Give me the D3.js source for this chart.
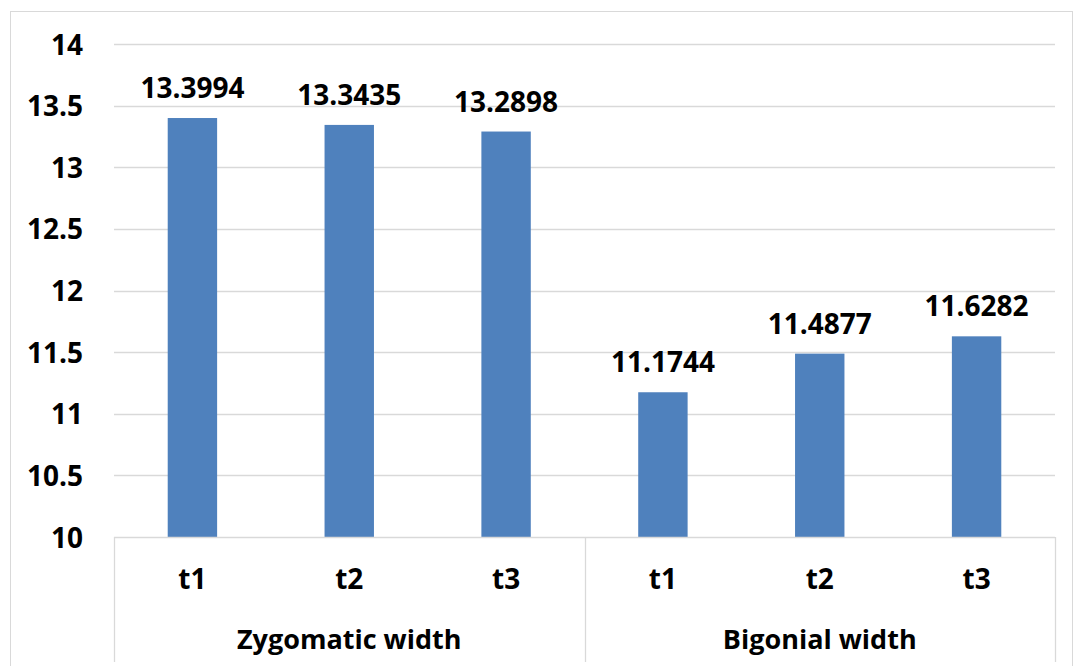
<!DOCTYPE html>
<html><head><meta charset="utf-8">
<script src="https://cdn.jsdelivr.net/npm/d3@7"></script>
<style>body{margin:0;background:#fff}svg{display:block}text{font-family:"Open Sans",Lato,sans-serif;font-weight:bold;fill:#000}</style>
</head><body>
<svg id="c" width="1075" height="666"></svg>
<script>
const groups = ["Zygomatic width", "Bigonial width"];
const times = ["t1", "t2", "t3"];
const zygomatic = [13.3994, 13.3435, 13.2898];
const bigonial = [11.1744, 11.4877, 11.6282];
const yTicks = [10, 10.5, 11, 11.5, 12, 12.5, 13, 13.5, 14];

const data = [];
groups.forEach((g, gi) => {
  const vals = gi === 0 ? zygomatic : bigonial;
  times.forEach((t, ti) => data.push({ key: g + "|" + t, group: g, time: t, value: vals[ti] }));
});

const FS = "28px";
const svg = d3.select("#c");
const L = 114, R = 1055, T = 44, B = 537;

svg.append("rect").attr("x", 10.5).attr("y", 11.5).attr("width", 1062).attr("height", 670)
  .attr("fill", "#fff").attr("stroke", "#d9d9d9").attr("stroke-width", 1);

const y = d3.scaleLinear().domain([10, 14]).range([B, T]);
const x = d3.scaleBand().domain(data.map(d => d.key)).range([L, R]).padding(0);
const xg = d3.scaleBand().domain(groups).range([L, R]).padding(0);
const bw = x.bandwidth() * 0.315;

// grid
svg.append("g").selectAll("line").data(yTicks.filter(v => v > 10)).join("line")
  .attr("x1", L).attr("x2", R).attr("y1", d => Math.round(y(d)) + 0.5).attr("y2", d => Math.round(y(d)) + 0.5)
  .attr("stroke", "#d9d9d9").attr("stroke-width", 1.3);

// y axis labels
const yAxis = d3.axisLeft(y).tickValues(yTicks).tickSize(0).tickPadding(0).tickFormat(d3.format("~g"));
const ya = svg.append("g").attr("transform", `translate(${83},0)`).call(yAxis);
ya.select(".domain").remove();
ya.selectAll("text").attr("dy", "0.36em").style("font-size", FS).style("font-family", "'Open Sans', Lato, sans-serif").style("font-weight", "bold").attr("fill", "#000");

// bars
svg.append("g").selectAll("rect").data(data).join("rect")
  .attr("x", d => x(d.key) + x.bandwidth() / 2 - bw / 2)
  .attr("width", bw)
  .attr("y", d => y(d.value))
  .attr("height", d => y(10) - y(d.value))
  .attr("fill", "#4f81bd");

// data labels
svg.append("g").selectAll("text").data(data).join("text")
  .attr("x", d => x(d.key) + x.bandwidth() / 2)
  .attr("y", d => y(d.value) - 20)
  .attr("text-anchor", "middle").style("font-size", FS)
  .text(d => d.value.toFixed(4));

// category axis box
svg.append("line").attr("x1", L).attr("x2", R).attr("y1", B + 0.5).attr("y2", B + 0.5).attr("stroke", "#d9d9d9").attr("stroke-width", 1.3);
const seps = [L, xg(groups[1]), R];
svg.append("g").selectAll("line").data(seps).join("line")
  .attr("x1", d => Math.round(d) + 0.5).attr("x2", d => Math.round(d) + 0.5)
  .attr("y1", B).attr("y2", 662).attr("stroke", "#d9d9d9").attr("stroke-width", 1.3);

svg.append("g").selectAll("text").data(data).join("text")
  .attr("x", d => x(d.key) + x.bandwidth() / 2).attr("y", 589)
  .attr("text-anchor", "middle").style("font-size", FS).text(d => d.time);

svg.append("g").selectAll("text").data(groups).join("text")
  .attr("x", d => xg(d) + xg.bandwidth() / 2).attr("y", 649)
  .attr("text-anchor", "middle").style("font-size", "27px").text(d => d);
</script>
</body></html>
